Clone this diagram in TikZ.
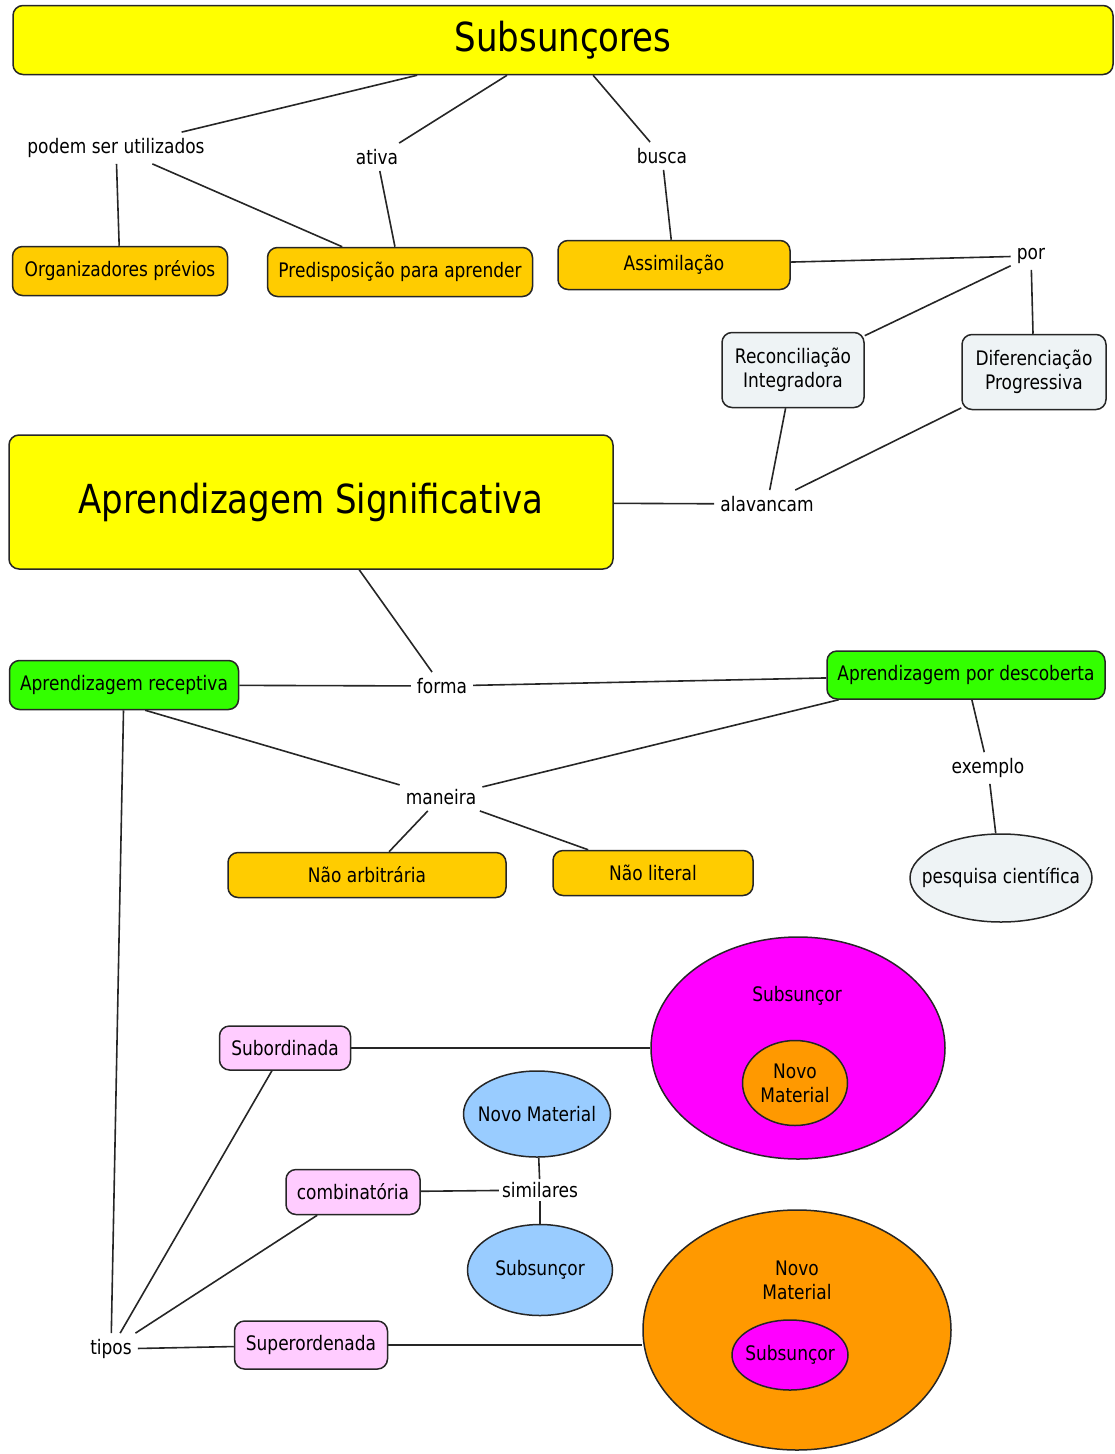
\documentclass[tikz,border=0pt]{standalone}
\usepackage{fontspec}
\setmainfont{DejaVu Sans}[FakeStretch=0.85]
\usetikzlibrary{shapes.geometric}
\definecolor{cmYellow}{HTML}{FFFF00}
\definecolor{cmGold}{HTML}{FFCC00}
\definecolor{cmGreen}{HTML}{33FF00}
\definecolor{cmGrey}{HTML}{EEF3F5}
\definecolor{cmPink}{HTML}{FFCCFF}
\definecolor{cmBlue}{HTML}{99CCFF}
\definecolor{cmMagenta}{HTML}{FF00FF}
\definecolor{cmOrange}{HTML}{FF9900}
\begin{document}
\begin{tikzpicture}[x=1pt,y=-1pt]
\tikzstyle{every node}+=[font=\fontsize{20}{24}\selectfont, align=center]
\tikzstyle{concept}=[draw=black!85, line width=1.5pt, rounded corners=10pt, inner sep=0pt]
\tikzstyle{blob}=[draw=black!85, line width=1.5pt, ellipse, inner ysep=0pt, inner xsep=-18pt]
\tikzstyle{link}=[inner sep=6pt]
\tikzstyle{conn}=[line width=1.6pt, black!85]
\useasboundingbox (0,0) rectangle (1115,1454);
% top part
\node[concept, fill=cmYellow, minimum width=1100, minimum height=69, font=\fontsize{40}{48}\selectfont] (subs) at (563,40) {Subsunçores};
\node[link] (podem) at (116,148) {podem ser utilizados};
\node[link] (ativa) at (377,157) {ativa};
\node[link] (busca) at (662,156) {busca};
\node[concept, fill=cmGold, minimum width=215, minimum height=49] (organ) at (120,271) {Organizadores prévios};
\node[concept, fill=cmGold, minimum width=265, minimum height=49] (predisp) at (400,272) {Predisposição para aprender};
\node[concept, fill=cmGold, minimum width=232, minimum height=49] (assim) at (674,265) {Assimilação};
\node[link] (por) at (1031,256) {por};
\node[concept, fill=cmGrey, minimum width=142, minimum height=75] (reconc) at (793,370) {Reconciliação\\Integradora};
\node[concept, fill=cmGrey, minimum width=144, minimum height=75] (difer) at (1034,372) {Diferenciação\\Progressiva};
% middle part
\node[concept, fill=cmYellow, minimum width=604, minimum height=134, font=\fontsize{40}{48}\selectfont] (apsig) at (311,502) {Aprendizagem Significativa};
\node[link] (alav) at (767,504) {alavancam};
\node[link] (forma) at (442,686) {forma};
\node[concept, fill=cmGreen, minimum width=229, minimum height=49] (recep) at (124,685) {Aprendizagem receptiva};
\node[concept, fill=cmGreen, minimum width=278, minimum height=48] (desc) at (966,675) {Aprendizagem por descoberta};
\node[link] (maneira) at (441,797) {maneira};
\node[link] (exemplo) at (988,768) {exemplo};
\node[concept, fill=cmGold, minimum width=278, minimum height=45] (naoarb) at (367,875) {Não arbitrária};
\node[concept, fill=cmGold, minimum width=200, minimum height=45] (naolit) at (653,873) {Não literal};
\node[blob, fill=cmGrey, minimum width=182, minimum height=88] (pesq) at (1001,878) {pesquisa científica};
% bottom part
\node[blob, fill=cmMagenta, minimum width=294, minimum height=222] (subA) at (798,1048) {};
\node (subAtxt) at (797,996) {Subsunçor};
\node[blob, fill=cmOrange, minimum width=105, minimum height=85] (novoA) at (795,1083) {Novo\\Material};
\node[concept, fill=cmPink, minimum width=131, minimum height=44] (subord) at (285,1048) {Subordinada};
\node[blob, fill=cmBlue, minimum width=147, minimum height=86] (novoB) at (537,1114) {Novo Material};
\node[link, inner sep=3pt] (simil) at (540,1190) {similares};
\node[concept, fill=cmPink, minimum width=134, minimum height=45] (combin) at (353,1192) {combinatória};
\node[blob, fill=cmBlue, minimum width=145, minimum height=91] (subB) at (540,1270) {Subsunçor};
\node[blob, fill=cmOrange, minimum width=308, minimum height=240] (novoC) at (797,1330) {};
\node (novoCtxt) at (797,1280) {Novo\\Material};
\node[blob, fill=cmMagenta, minimum width=116, minimum height=70] (subC) at (790,1355) {Subsunçor};
\node[link] (tipos) at (111,1349) {tipos};
\node[concept, fill=cmPink, minimum width=153, minimum height=48] (superord) at (311,1345) {Superordenada};
% connectors
\draw[conn] (subs) -- (podem);
\draw[conn] (subs) -- (ativa);
\draw[conn] (subs) -- (busca);
\draw[conn] (podem) -- (organ);
\draw[conn] (podem) -- (predisp);
\draw[conn] (ativa) -- (predisp);
\draw[conn] (busca) -- (assim);
\draw[conn] (assim) -- (por);
\draw[conn] (por) -- (reconc);
\draw[conn] (por) -- (difer);
\draw[conn] (reconc) -- (alav);
\draw[conn] (difer) -- (alav);
\draw[conn] (apsig) -- (alav);
\draw[conn] (apsig) -- (forma);
\draw[conn] (forma) -- (recep);
\draw[conn] (forma) -- (desc);
\draw[conn] (recep.-50) -- (maneira);
\draw[conn] (desc.-169) -- (maneira);
\draw[conn] (maneira) -- (naoarb);
\draw[conn] (maneira) -- (naolit);
\draw[conn] (desc) -- (exemplo);
\draw[conn] (exemplo) -- (pesq);
\draw[conn] (recep) -- (tipos);
\draw[conn] (subord) -- (tipos);
\draw[conn] (combin) -- (tipos);
\draw[conn] (tipos) -- (superord);
\draw[conn] (subord) -- (subA);
\draw[conn] (superord.east) -- (superord.east -| novoC.west);
\draw[conn] (combin) -- (simil);
\draw[conn] (novoB) -- (simil);
\draw[conn] (simil) -- (subB);
\end{tikzpicture}
\end{document}
